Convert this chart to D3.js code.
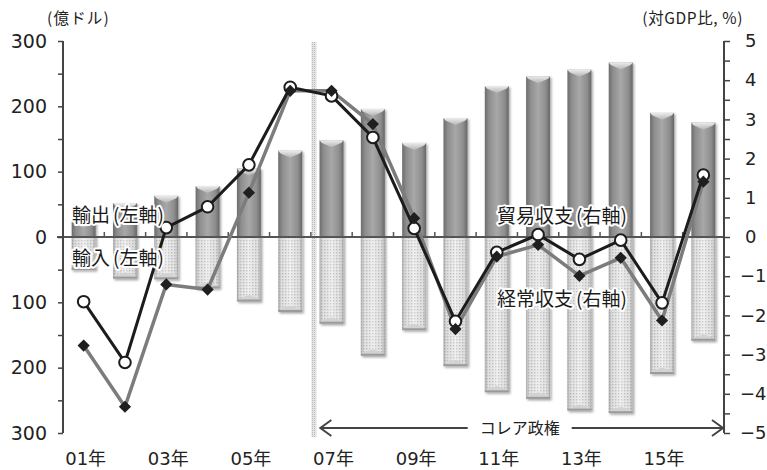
<!DOCTYPE html>
<html>
<head>
<meta charset="utf-8">
<script src="https://cdn.jsdelivr.net/npm/d3@7"></script>
<style>
  html, body { margin: 0; padding: 0; background: #fff; }
  svg { display: block; }
</style>
</head>
<body>
<svg id="chart" width="767" height="470"></svg>
<script>
// Ecuador: exports / imports (100 million USD, left) and trade / current balance (% of GDP, right)
const years = ["01", "02", "03", "04", "05", "06", "07", "08",
               "09", "10", "11", "12", "13", "14", "15", "16"];
const exportsUSD = [25, 52, 63, 78, 105, 132, 148, 196, 144, 182, 231, 246, 256, 267, 190, 175];
const importsUSD = [-50, -63, -64, -78, -98, -114, -132, -181, -142, -197, -237, -247, -265, -269, -209, -158];
const tradeBalance = [-1.65, -3.2, 0.24, 0.77, 1.84, 3.82, 3.6, 2.54, 0.22, -2.15, -0.39, 0.06, -0.57, -0.08, -1.68, 1.58];
const currentAccount = [-2.77, -4.33, -1.21, -1.34, 1.13, 3.73, 3.73, 2.88, 0.48, -2.35, -0.5, -0.2, -0.99, -0.53, -2.13, 1.41];
const leftTicks = [-300, -200, -100, 0, 100, 200, 300];
const rightTicks = [-5, -4, -3, -2, -1, 0, 1, 2, 3, 4, 5];
const xTickLabels = ["01年", "03年", "05年", "07年", "09年", "11年", "13年", "15年"];

const svg = d3.select("#chart");
const plotL = 63, plotR = 724, plotT = 41, plotB = 433;
const NUM_FONT = "DejaVu Sans, Noto Sans CJK JP, sans-serif";
const JP_FONT = "Noto Sans CJK JP, sans-serif";

const x = d3.scaleBand().domain(years).range([plotL, plotR]).paddingInner(0.42).paddingOuter(0.21);
const xc = d => x(d) + x.bandwidth() / 2;
const yL = d3.scaleLinear().domain([-300, 300]).range([plotB, plotT]);
const yR = d3.scaleLinear().domain([-5, 5]).range([plotB, plotT]);
const step = x.step();

const defs = svg.append("defs");
// export bar body
const gEx = defs.append("linearGradient").attr("id", "gEx").attr("x1", 0).attr("x2", 1).attr("y1", 0).attr("y2", 0);
[["0%", "#6c6c6c"], ["18%", "#8e8e8e"], ["50%", "#a8a8a8"], ["82%", "#8e8e8e"], ["100%", "#666"]]
  .forEach(s => gEx.append("stop").attr("offset", s[0]).attr("stop-color", s[1]));
const gCap = defs.append("linearGradient").attr("id", "gCap").attr("x1", 0).attr("x2", 0).attr("y1", 0).attr("y2", 1);
[["0%", "#ececec"], ["100%", "#b4b4b4"]]
  .forEach(s => gCap.append("stop").attr("offset", s[0]).attr("stop-color", s[1]));
// import bar: dotted fill
const pat = defs.append("pattern").attr("id", "dots").attr("patternUnits", "userSpaceOnUse")
  .attr("width", 3).attr("height", 3);
pat.append("rect").attr("width", 3).attr("height", 3).attr("fill", "#ececec");
pat.append("rect").attr("width", 1.4).attr("height", 1.4).attr("fill", "#bdbdbd");
const gImEdge = defs.append("linearGradient").attr("id", "gImEdge").attr("x1", 0).attr("x2", 1).attr("y1", 0).attr("y2", 0);
[["0%", "rgba(120,120,120,0.55)"], ["15%", "rgba(160,160,160,0.15)"], ["50%", "rgba(255,255,255,0.25)"],
 ["85%", "rgba(160,160,160,0.15)"], ["100%", "rgba(120,120,120,0.55)"]]
  .forEach(s => gImEdge.append("stop").attr("offset", s[0]).attr("stop-color", s[1]));
// vertical band
const pat2 = defs.append("pattern").attr("id", "dots2").attr("patternUnits", "userSpaceOnUse")
  .attr("width", 2).attr("height", 2);
pat2.append("rect").attr("width", 2).attr("height", 2).attr("fill", "#e4e4e4");
pat2.append("rect").attr("width", 1).attr("height", 1).attr("fill", "#b8b8b8");
const sh = defs.append("filter").attr("id", "shadow").attr("x", "-30%").attr("y", "-10%").attr("width", "160%").attr("height", "130%");
sh.append("feDropShadow").attr("dx", 1.5).attr("dy", 1.5).attr("stdDeviation", 1.2)
  .attr("flood-color", "#000").attr("flood-opacity", 0.35);

// vertical marker band at the start of 2007
const bandX = x("07") - step * x.paddingInner() / 2 + 0.5;
svg.append("rect").attr("x", bandX).attr("y", plotT + 1).attr("width", 5).attr("height", plotB + 3 - plotT)
  .attr("fill", "url(#dots2)");

// export bars
const ex = svg.append("g").attr("filter", "url(#shadow)");
years.forEach((yr, i) => {
  const bx = x(yr), w = x.bandwidth(), by = yL(exportsUSD[i]), h = yL(0) - by;
  ex.append("rect").attr("x", bx).attr("y", by).attr("width", w).attr("height", h).attr("fill", "url(#gEx)");
  ex.append("path")
    .attr("d", `M${bx},${by} L${bx + w},${by} L${bx + w - 2},${by + 2.5} L${bx + w / 2},${by + 7} L${bx + 2},${by + 2.5} Z`)
    .attr("fill", "url(#gCap)");
});

// import bars
const im = svg.append("g").attr("filter", "url(#shadow)");
years.forEach((yr, i) => {
  const bx = x(yr), w = x.bandwidth(), y0 = yL(0), by = yL(importsUSD[i]), h = by - y0;
  im.append("rect").attr("x", bx).attr("y", y0).attr("width", w).attr("height", h).attr("fill", "url(#dots)");
  im.append("rect").attr("x", bx).attr("y", y0).attr("width", w).attr("height", h).attr("fill", "url(#gImEdge)");
  im.append("path")
    .attr("d", `M${bx},${by} L${bx + w},${by} L${bx + w - 2},${by - 2.5} L${bx + w / 2},${by - 6} L${bx + 2},${by - 2.5} Z`)
    .attr("fill", "#d2d2d2");
  im.append("rect").attr("x", bx).attr("y", by - 1.5).attr("width", w).attr("height", 2).attr("fill", "#9a9a9a");
});

// zero line and category ticks
svg.append("line").attr("x1", plotL - 6).attr("x2", plotR).attr("y1", yL(0)).attr("y2", yL(0))
  .attr("stroke", "#555").attr("stroke-width", 2);
const bounds = years.map(d => x(d) - step * x.paddingInner() / 2).slice(1);
svg.append("g").selectAll("line").data(bounds).join("line")
  .attr("x1", d => d).attr("x2", d => d).attr("y1", yL(0)).attr("y2", yL(0) - 5)
  .attr("stroke", "#555").attr("stroke-width", 1.5);

// left axis
const axL = svg.append("g").attr("transform", `translate(${plotL},0)`);
axL.call(d3.axisLeft(yL).tickValues(d3.range(-250, 300, 100)).tickSize(5).tickFormat(""));
axL.append("g").call(d3.axisLeft(yL).tickValues(leftTicks).tickSize(5).tickFormat(d => Math.abs(d)));
axL.selectAll(".domain").attr("stroke", "#444").attr("stroke-width", 2).attr("d", `M0,${plotT}V${plotB}`);
axL.selectAll(".tick line").attr("stroke", "#444").attr("stroke-width", 1.5);
axL.selectAll(".tick text").attr("font-size", 19).attr("fill", "#222").attr("x", -16)
  .attr("font-family", NUM_FONT);

// right axis
const axR = svg.append("g").attr("transform", `translate(${plotR},0)`);
axR.call(d3.axisRight(yR).tickValues(d3.range(-4.5, 5, 1)).tickSize(6).tickFormat(""));
axR.append("g").call(d3.axisRight(yR).tickValues(rightTicks).tickSize(6)
  .tickFormat(d => d < 0 ? "\u2212" + Math.abs(d) : d));
axR.selectAll(".domain").attr("stroke", "#444").attr("stroke-width", 2).attr("d", `M0,${plotT}V${plotB}`);
axR.selectAll(".tick line").attr("stroke", "#444").attr("stroke-width", 1.5);
axR.selectAll(".tick text").attr("font-size", 18).attr("fill", "#222")
  .attr("x", d => d < 0 ? 16 : 21)
  .attr("font-family", NUM_FONT);

// x labels (odd years)
svg.append("g").selectAll("text").data(xTickLabels).join("text")
  .attr("x", d => xc(d.slice(0, 2)) + 2)
  .attr("y", 465)
  .attr("text-anchor", "middle")
  .attr("font-size", 18).attr("fill", "#222")
  .attr("font-family", NUM_FONT)
  .text(d => d);

// balance lines
const line = d3.line().x((d, i) => xc(years[i])).y(d => yR(d));
svg.append("path").datum(currentAccount).attr("d", line).attr("fill", "none")
  .attr("stroke", "#7c7c7c").attr("stroke-width", 3.5).attr("stroke-linejoin", "round");
svg.append("path").datum(tradeBalance).attr("d", line).attr("fill", "none")
  .attr("stroke", "#1c1c1c").attr("stroke-width", 3).attr("stroke-linejoin", "round");
svg.append("g").selectAll("circle").data(tradeBalance).join("circle")
  .attr("cx", (d, i) => xc(years[i])).attr("cy", d => yR(d)).attr("r", 5.8)
  .attr("fill", "#fff").attr("stroke", "#1c1c1c").attr("stroke-width", 2);
svg.append("g").selectAll("path").data(currentAccount).join("path")
  .attr("d", d3.symbol(d3.symbolDiamond2, 95))
  .attr("transform", (d, i) => `translate(${xc(years[i])},${yR(d)})`)
  .attr("fill", "#1f1f1f");

// series labels: name, then the axis it is read on in narrow parentheses
const lab = (name, axisName, lx, ly) => {
  const t = svg.append("text").attr("x", lx).attr("y", ly)
    .attr("font-family", JP_FONT).attr("font-size", 19).attr("fill", "#1a1a1a")
    .attr("stroke", "#fff").attr("stroke-width", 4).attr("stroke-linejoin", "round")
    .attr("paint-order", "stroke");
  t.append("tspan").text(name);
  t.append("tspan").attr("dx", 3).text("(" + axisName + ")");
};
lab("輸出", "左軸", 72, 222);
lab("輸入", "左軸", 72, 265);
lab("貿易収支", "右軸", 497, 223);
lab("経常収支", "右軸", 497, 306);

// unit labels
svg.append("text").attr("x", 47).attr("y", 24).attr("font-size", 15.5).attr("letter-spacing", 1.2).attr("fill", "#222")
  .attr("font-family", JP_FONT).text("(億ドル)");
svg.append("text").attr("x", 743).attr("y", 24).attr("text-anchor", "end").attr("font-size", 15.5)
  .attr("letter-spacing", 0.6).attr("fill", "#222")
  .attr("font-family", JP_FONT).text("(対GDP比, %)");

// Correa administration span
const ay = 428, ax1 = bandX + 9, ax2 = plotR - 1;
const arrow = svg.append("g").attr("stroke", "#444").attr("stroke-width", 2).attr("fill", "none");
arrow.append("line").attr("x1", ax1).attr("x2", ax2).attr("y1", ay).attr("y2", ay);
arrow.append("path").attr("d", `M${ax1 + 11},${ay - 8} L${ax1},${ay} L${ax1 + 11},${ay + 8}`);
arrow.append("path").attr("d", `M${ax2 - 11},${ay - 8} L${ax2},${ay} L${ax2 - 11},${ay + 8}`);
const mid = (ax1 + ax2) / 2 - 2;
svg.append("rect").attr("x", mid - 52).attr("y", ay - 10).attr("width", 104).attr("height", 20).attr("fill", "#fff");
svg.append("text").attr("x", mid).attr("y", ay + 6).attr("text-anchor", "middle")
  .attr("font-family", JP_FONT).attr("font-size", 16).attr("fill", "#222")
  .text("コレア政権");
</script>
</body>
</html>
